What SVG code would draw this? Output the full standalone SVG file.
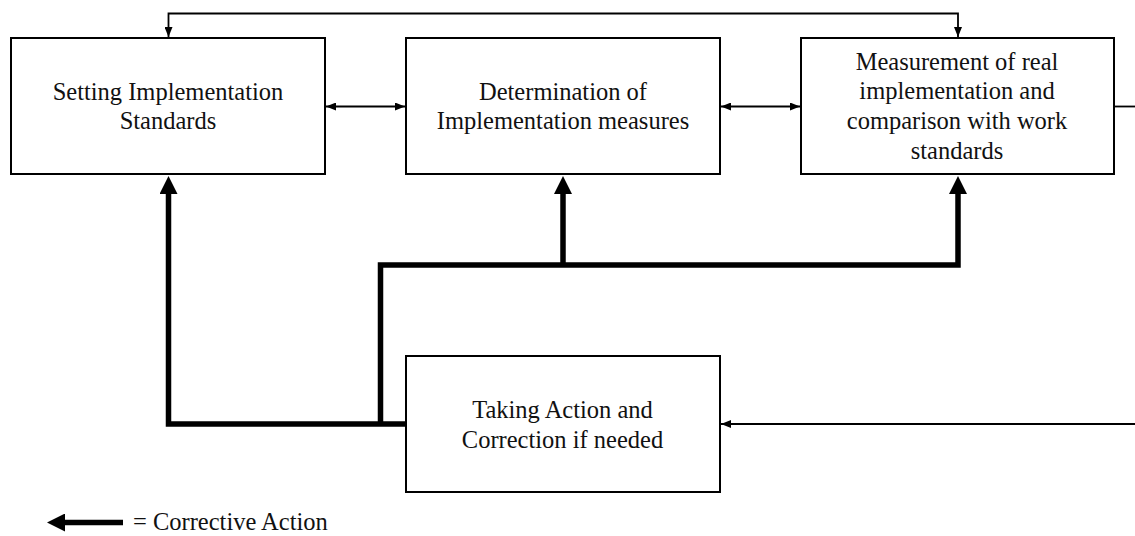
<svg xmlns="http://www.w3.org/2000/svg" width="1135" height="536" viewBox="0 0 1135 536">
<style>
.box{fill:#fff;stroke:#000;stroke-width:2}
.t{font-family:"Liberation Serif","Times New Roman",serif;font-size:24.5px;fill:#111;text-anchor:middle}
.thin{fill:none;stroke:#000;stroke-width:1.8}
.thick{fill:none;stroke:#000;stroke-width:5.5}
</style>
<defs>
<marker id="a" markerUnits="userSpaceOnUse" viewBox="0 0 10 8" markerWidth="10" markerHeight="8" refX="10" refY="4" orient="auto-start-reverse"><path d="M0,0L10,4L0,8z" fill="#000"/></marker>
<marker id="A" markerUnits="userSpaceOnUse" viewBox="0 -9 18 18" markerWidth="18" markerHeight="18" refX="1" refY="0" orient="auto-start-reverse"><path d="M0,-9L18,0L0,9z" fill="#000"/></marker>
</defs>
<g id="connectors">
<path class="thin" d="M168.5,37 V13.5 H958 V37" marker-start="url(#a)" marker-end="url(#a)"/>
<path class="thin" d="M326,106.5 H405" marker-start="url(#a)" marker-end="url(#a)"/>
<path class="thin" d="M721,106.5 H800" marker-start="url(#a)" marker-end="url(#a)"/>
<path class="thin" d="M1114,106.5 H1135"/>
<path class="thin" d="M1135,424 H721" marker-end="url(#a)"/>
<path class="thick" d="M406,424 H168.5 V193" marker-end="url(#A)"/>
<path class="thick" d="M380.5,424 V265 H958 V193" marker-end="url(#A)"/>
<path class="thick" d="M563,265 V193" marker-end="url(#A)"/>
</g>
<g id="n1">
<rect class="box" x="11" y="38" width="314" height="136"/>
<text class="t" x="168" y="100">Setting Implementation</text>
<text class="t" x="168" y="129">Standards</text>
</g>
<g id="n2">
<rect class="box" x="406" y="38" width="314" height="136"/>
<text class="t" x="563" y="100">Determination of</text>
<text class="t" x="563" y="129">Implementation measures</text>
</g>
<g id="n3">
<rect class="box" x="801" y="38" width="313" height="136"/>
<text class="t" x="957" y="69.5">Measurement of real</text>
<text class="t" x="957" y="99.3">implementation and</text>
<text class="t" x="957" y="129">comparison with work</text>
<text class="t" x="957" y="158.5">standards</text>
</g>
<g id="n4">
<rect class="box" x="406" y="356" width="314" height="136"/>
<text class="t" x="562.5" y="418">Taking Action and</text>
<text class="t" x="562.5" y="447.5">Correction if needed</text>
</g>
<g id="legend">
<path class="thick" d="M123,522.5 H64" marker-end="url(#A)"/>
<text class="t" x="133" y="529.5" style="text-anchor:start">= Corrective Action</text>
</g>
</svg>
